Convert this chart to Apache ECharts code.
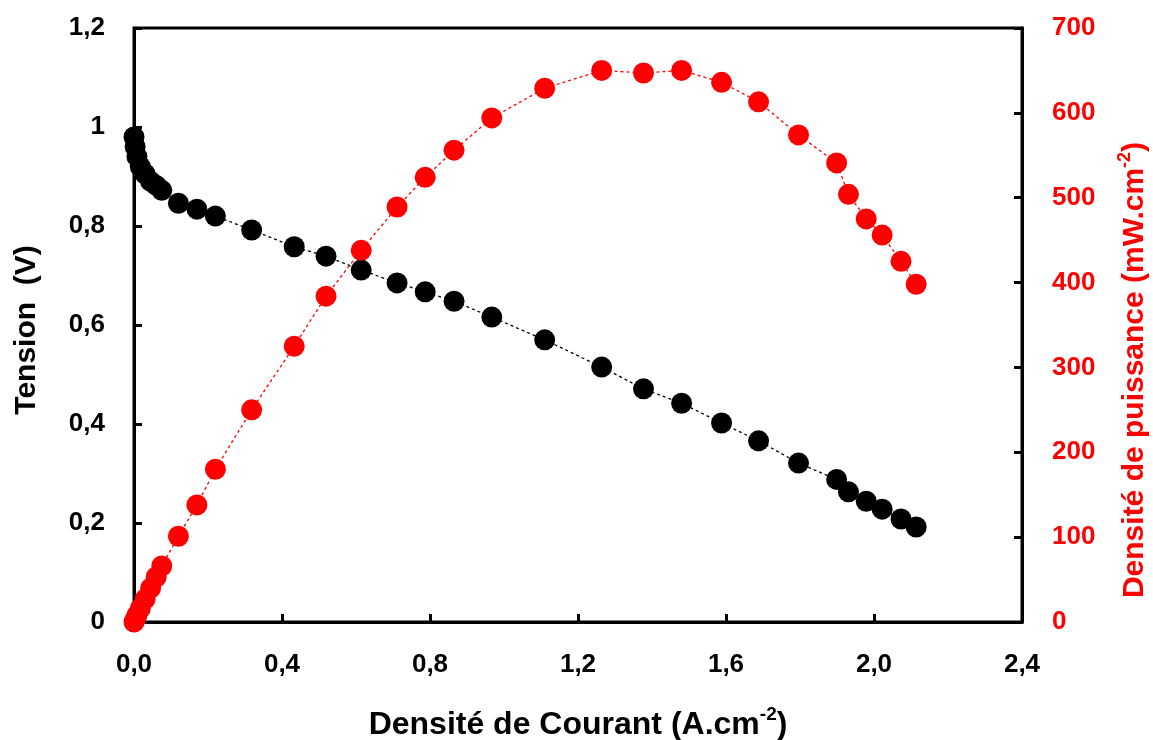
<!DOCTYPE html>
<html><head><meta charset="utf-8">
<script src="https://cdn.jsdelivr.net/npm/echarts@6/dist/echarts.min.js"></script>
<style>html,body{margin:0;padding:0;background:#fff}#c{width:1153px;height:740px}</style>
</head><body><div id="c"></div>
<script>
// Current density (A.cm-2)
const current = [0, 0.003, 0.008, 0.017, 0.03, 0.045, 0.06, 0.075, 0.12, 0.17, 0.22, 0.318, 0.433, 0.519, 0.614, 0.711, 0.787, 0.865, 0.967, 1.11, 1.264, 1.377, 1.48, 1.588, 1.688, 1.796, 1.899, 1.931, 1.979, 2.022, 2.073, 2.114];
// Voltage (V)
const voltage = [0.98, 0.96, 0.94, 0.92, 0.905, 0.89, 0.882, 0.872, 0.846, 0.834, 0.82, 0.792, 0.758, 0.739, 0.711, 0.685, 0.667, 0.648, 0.616, 0.570, 0.515, 0.471, 0.442, 0.402, 0.366, 0.321, 0.288, 0.263, 0.244, 0.228, 0.208, 0.192];
// Power density (mW.cm-2)
const power = [0, 3, 8, 16, 27, 40, 53, 66, 101, 138, 180, 250, 325, 384, 438, 489, 524, 556, 594, 629, 650, 647, 650, 636, 613, 574, 541, 504, 475, 456, 425, 398];

const font = '"Liberation Sans", Arial, sans-serif';
const chart = echarts.init(document.getElementById('c'));
chart.setOption({
  animation: false,
  grid: {left: 134, right: 131, top: 28, bottom: 118, show: true, borderColor: '#000', borderWidth: 3, backgroundColor: 'transparent', containLabel: false, outerBoundsMode: 'none'},
  xAxis: {
    type: 'value', min: 0, max: 2.4, interval: 0.4,
    axisLine: {lineStyle: {color: '#000', width: 3}},
    axisTick: {inside: true, length: 8, lineStyle: {color: '#000', width: 3}},
    splitLine: {show: false},
    axisLabel: {color: '#000', fontSize: 26, fontWeight: 'bold', fontFamily: font, margin: 30,
      formatter: v => v.toFixed(1).replace('.', ',')},
    name: '{t|Densité de Courant (A.cm}{s|-2}{t|)}',
    nameLocation: 'middle', nameGap: 83,
    nameTextStyle: {rich: {
      t: {fontSize: 32, fontWeight: 'bold', fontFamily: font, color: '#000'},
      s: {fontSize: 19, fontWeight: 'bold', fontFamily: font, color: '#000', verticalAlign: 'top', lineHeight: 40}
    }}
  },
  yAxis: [{
    type: 'value', min: 0, max: 1.2, interval: 0.2, position: 'left',
    axisLine: {lineStyle: {color: '#000', width: 3}},
    axisTick: {inside: true, length: 8, lineStyle: {color: '#000', width: 3}},
    splitLine: {show: false},
    axisLabel: {color: '#000', fontSize: 26, fontWeight: 'bold', fontFamily: font, margin: 29,
      formatter: v => v === 0 ? '0' : (+v.toFixed(1) === Math.round(v) ? String(Math.round(v)) : v.toFixed(1).replace('.', ','))},
    name: 'Tension  (V)', nameLocation: 'middle', nameGap: 92, nameRotate: 90,
    nameTextStyle: {fontSize: 30, fontWeight: 'bold', fontFamily: font, color: '#000', padding: [0, 10, 0, 0]}
  }, {
    type: 'value', min: 0, max: 700, interval: 100, position: 'right',
    axisLine: {lineStyle: {color: '#000', width: 3}},
    axisTick: {inside: true, length: 8, lineStyle: {color: '#000', width: 3}},
    splitLine: {show: false},
    axisLabel: {color: '#ff0000', fontSize: 26, fontWeight: 'bold', fontFamily: font, margin: 30},
    name: '{t|Densité de puissance (mW.cm}{s|-2}{t|)}',
    nameLocation: 'middle', nameGap: 94, nameRotate: 90,
    nameTextStyle: {padding: [0, 90, 0, 0], rich: {
      t: {fontSize: 30, fontWeight: 'bold', fontFamily: font, color: '#ff0000'},
      s: {fontSize: 18, fontWeight: 'bold', fontFamily: font, color: '#ff0000', verticalAlign: 'top', lineHeight: 38}
    }}
  }],
  series: [{
    type: 'line', yAxisIndex: 0, clip: false,
    data: current.map((x, i) => [x, voltage[i]]),
    symbol: 'circle', symbolSize: 21, showSymbol: true,
    itemStyle: {color: '#000'},
    lineStyle: {color: '#000', width: 1.3, type: [3, 3]}
  }, {
    type: 'line', yAxisIndex: 1, clip: false,
    data: current.map((x, i) => [x, power[i]]),
    symbol: 'circle', symbolSize: 21, showSymbol: true,
    itemStyle: {color: '#ff0000'},
    lineStyle: {color: '#ff0000', width: 1.3, type: [3, 3]}
  }]
});
</script></body></html>
